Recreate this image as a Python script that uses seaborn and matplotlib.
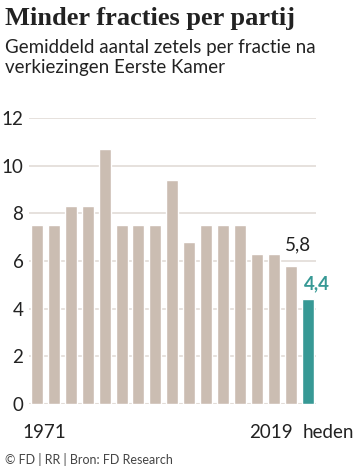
import matplotlib
matplotlib.use("Agg")
import matplotlib.pyplot as plt
import seaborn as sns

# Eerste Kamer elections 1971-2019 plus current situation
years = ["1971", "1974", "1977", "1980", "1981", "1983", "1986", "1987", "1991",
         "1995", "1999", "2003", "2007", "2011", "2015", "2019", "heden"]
seats_per_fraction = [7.5, 7.5, 8.3, 8.3, 10.7, 7.5, 7.5, 7.5, 9.4,
                      6.8, 7.5, 7.5, 7.5, 6.3, 6.3, 5.8, 4.4]
shown_labels = {"1971": "1971", "2019": "2019", "heden": "heden"}

BEIGE = "#cbbdb2"
TEAL = "#379995"
GRID = "#e2dcd7"
SANS = ["Lato", "DejaVu Sans"]

sns.set_style("white")
plt.rcParams["font.family"] = SANS

fig = plt.figure(figsize=(3.6, 4.71), dpi=100)
ax = fig.add_axes([29 / 360, 1 - 404 / 471, (316 - 29) / 360, (404 - 118) / 471])

colors = [TEAL if y == "heden" else BEIGE for y in years]
sns.barplot(x=years, y=seats_per_fraction, hue=years, palette=colors,
            legend=False, width=0.71, saturation=1, ax=ax, zorder=2)

ax.set_ylim(0, 12)
ax.set_xlim(-0.47, 16.5)
ax.set_yticks(range(0, 13, 2))
ax.set_yticklabels([str(v) for v in range(0, 13, 2)], fontsize=13.5, color="#222")
ax.tick_params(axis="y", length=0, pad=4)
ax.tick_params(axis="x", length=0)
ax.set_xticks([])
ax.grid(axis="y", color=GRID, linewidth=1.2, zorder=0)
ax.set_axisbelow(True)
sns.despine(ax=ax, left=True, right=True, top=True, bottom=True)
ax.axhline(0, color=GRID, linewidth=1.5, zorder=1)

# x labels: only first, last election and "heden"
xt = ax.get_xaxis_transform()
ax.text(0.42, -0.098, shown_labels["1971"], transform=xt, ha="center", va="center",
        fontsize=13.5, color="#222")
ax.text(15.15, -0.098, shown_labels["2019"], transform=xt, ha="right", va="center",
        fontsize=13.5, color="#222")
ax.text(15.68, -0.098, shown_labels["heden"], transform=xt, ha="left", va="center",
        fontsize=13.5, color="#222")

# value labels for the last two bars
ax.text(15.44, seats_per_fraction[15] + 0.87, f"{seats_per_fraction[15]:.1f}".replace(".", ","),
        ha="center", va="center", fontsize=13.5, color="#222")
ax.text(16.57, seats_per_fraction[16] + 0.65, f"{seats_per_fraction[16]:.1f}".replace(".", ","),
        ha="center", va="center", fontsize=13.5, color=TEAL, fontweight="bold",
        clip_on=False)

fig.text(5 / 360, 1 - 18 / 471, "Minder fracties per partij",
         family=["Liberation Serif", "DejaVu Serif"], fontweight="bold",
         fontsize=19, color="#222", ha="left", va="center")
fig.text(5 / 360, 1 - 39 / 471, "Gemiddeld aantal zetels per fractie na\nverkiezingen Eerste Kamer",
         fontsize=13.5, color="#222", ha="left", va="top", linespacing=1.2)
fig.text(5 / 360, 1 - 460 / 471, "\u00a9 FD | RR | Bron: FD Research",
         fontsize=9, color="#444", ha="left", va="center")

plt.savefig("out.png", dpi=100)
plt.close(fig)
